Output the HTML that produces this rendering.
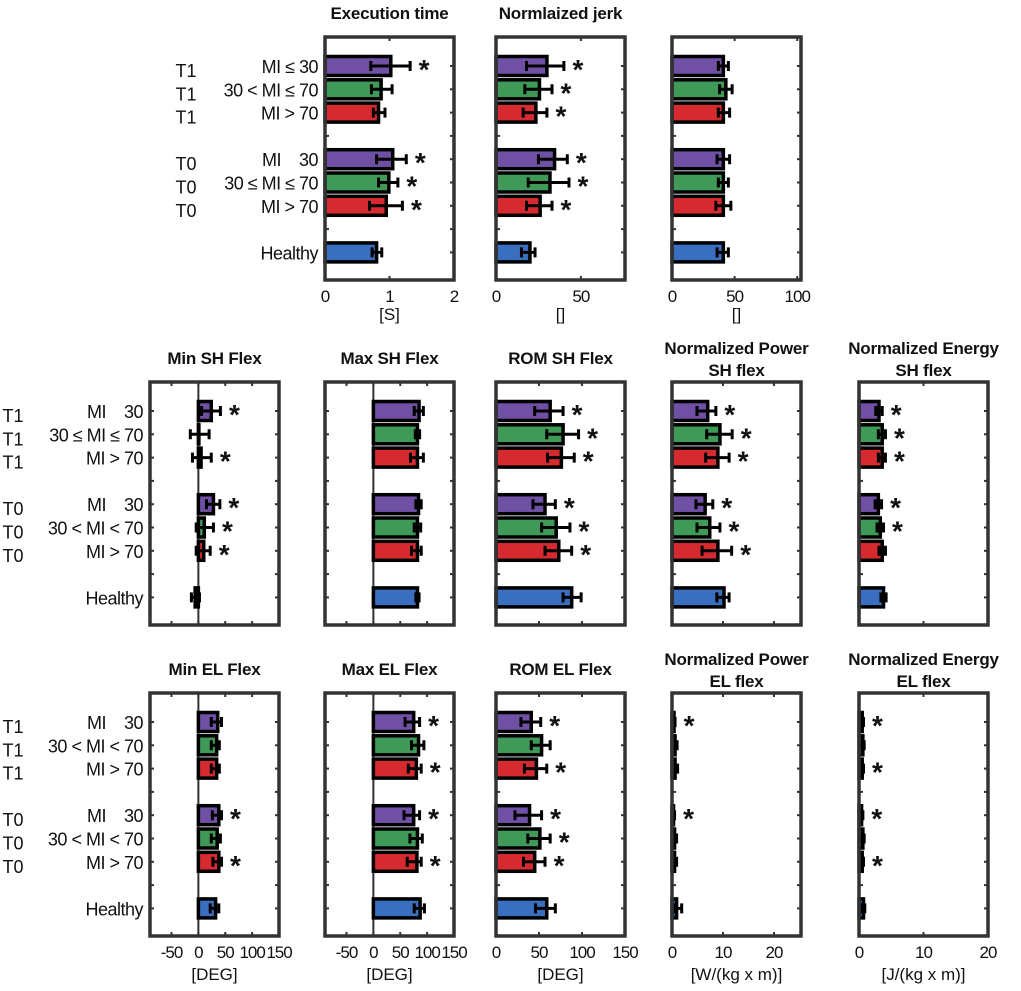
<!DOCTYPE html>
<html><head><meta charset="utf-8"><style>
body{margin:0;background:#fff}
svg text{font-family:"Liberation Sans",sans-serif;fill:#111}
</style></head><body>
<svg id="fig" width="1021" height="986" viewBox="0 0 1021 986" xmlns="http://www.w3.org/2000/svg"></svg>
<script>
// ---- data ----
const categories = ["MI ≤ 30","30 < MI ≤ 70","MI > 70","MI ≤ 30","30 < MI ≤ 70","MI > 70","Healthy"];
const rowPos = [1,2,3,5,6,7,9];
const groupColors = ["#7050a4","#3e9a56","#d52b30","#3a6ebf","#3a6ebf"];
const barColorIdx = [0,1,2,0,1,2,3];

const execMean = [1.02,0.87,0.83,1.05,0.99,0.95,0.80];
const execLo   = [0.71,0.72,0.75,0.80,0.83,0.69,0.73];
const execHi   = [1.32,1.04,0.93,1.26,1.13,1.20,0.88];
const execStar = [1,0,0,1,1,1,0];

const jerkMean = [30,25.6,23.5,34.5,31.8,26,20];
const jerkLo   = [18,17,16,25,19,18,15];
const jerkHi   = [40,33,30,42,43,33,23];
const jerkStar = [1,1,1,1,1,1,0];

const thirdMean = [41,43,41,41,41,41,41];
const thirdLo   = [37,38,37,36,37,35,36];
const thirdHi   = [45,48,46,46,45,47,45];
const thirdStar = [0,0,0,0,0,0,0];

const minShMean = [24,0,5,28,11,10,-6];
const minShLo   = [6,-15,-11,15,-4,-4,-13];
const minShHi   = [41,20,24,40,28,22,2];
const minShStar = [1,0,1,1,1,1,0];

const maxShMean = [85,82,82,84,82,82,82];
const maxShLo   = [76,78,69,79,76,71,79];
const maxShHi   = [93,86,93,89,88,89,85];
const maxShStar = [0,0,0,0,0,0,0];

const romShMean = [63,78,76,57,70,73,88];
const romShLo   = [45,59,60,43,53,57,78];
const romShHi   = [78,96,91,69,86,88,99];
const romShStar = [1,1,1,1,1,1,0];

const powShMean = [7,9.4,9,6.5,7.4,9,10.2];
const powShLo   = [4.9,6.8,6.6,4.7,4.9,5.9,8.8];
const powShHi   = [8.6,11.8,11.2,8,9.4,11.7,11.2];
const powShStar = [1,1,1,1,1,1,0];

const enShMean = [3.1,3.6,3.6,3,3.3,3.6,3.8];
const enShLo   = [2.6,3.0,3.0,2.5,2.8,3.1,3.4];
const enShHi   = [3.6,4.1,4.1,3.5,3.8,4.1,4.2];
const enShStar = [1,1,1,1,1,0,0];

const minElMean = [36,34,34,38,35,38,32];
const minElLo   = [24,24,24,26,24,27,22];
const minElHi   = [43,39,39,43,41,43,38];
const minElStar = [0,0,0,1,0,1,0];

const maxElMean = [75,84,80,75,82,81,87];
const maxElLo   = [59,71,65,57,68,63,76];
const maxElHi   = [86,94,89,86,91,89,95];
const maxElStar = [1,0,1,1,0,1,0];

const romElMean = [41,53,47,39,51,45,59];
const romElLo   = [29,41,33,22,37,32,46];
const romElHi   = [52,63,59,53,63,57,69];
const romElStar = [1,0,1,1,1,1,0];

const powElMean = [0.4,0.6,0.6,0.3,0.5,0.5,0.9];
const powElLo   = [0.2,0.3,0.3,0.1,0.2,0.2,0.5];
const powElHi   = [0.6,1.0,1.1,0.5,0.9,0.9,1.9];
const powElStar = [1,0,0,1,0,0,0];

const enElMean = [0.5,0.6,0.5,0.4,0.6,0.5,0.7];
const enElLo   = [0.3,0.4,0.3,0.2,0.4,0.3,0.5];
const enElHi   = [0.7,0.8,0.7,0.6,0.8,0.7,0.9];
const enElStar = [1,0,1,1,0,1,0];

const ticksExec = [0,1,2];
const ticksJerk = [0,50];
const ticksThird = [0,50,100];
const ticksDeg = [-50,0,50,100,150];
const ticksRom = [0,50,100,150];
const ticksPow = [0,10,20];

// ---- layout ----
const NS="http://www.w3.org/2000/svg";
const svg=document.getElementById('fig');
function mk(tag,attrs,parent){const e=document.createElementNS(NS,tag);for(const k in attrs)e.setAttribute(k,attrs[k]);(parent||svg).appendChild(e);return e;}
const rows={top:{y0:37,y1:280,r1:66},mid:{y0:382,y1:625,r1:411},bot:{y0:693,y1:936,r1:722}};
const cols={A:[150,279],B:[325,454],C:[496,625],D:[672,801],E:[859,988]};
const SP=23.3;

function panel(name,row,col,xmin,xmax,mean,lo,hi,star,ticks,showLabels,title,unit,zeroLine){
  const R=rows[row],[x0,x1]=cols[col];
  const g=mk('g',{});
  
  
  const xs=v=>x0+(v-xmin)/(xmax-xmin)*(x1-x0);
  const ys=p=>R.r1+(p-1)*SP;
  if(title){
    const offs = title.length>1 ? [-28,-6] : [-18];
    title.forEach((t,i)=>{
      const tt=mk('text',{x:(x0+x1)/2,y:R.y0+offs[i],'text-anchor':'middle','font-size':17,'font-weight':'bold','letter-spacing':'-0.2'},g);
      tt.textContent=t;
      
      
    });
  }
  if(zeroLine){const z=mk('line',{x1:xs(0),x2:xs(0),y1:R.y0,y2:R.y1,stroke:'#333','stroke-width':2},g);
    }
  for(let p=1;p<=9;p++){
    mk('line',{x1:x0,x2:x0+4,y1:ys(p),y2:ys(p),stroke:'#333','stroke-width':2},g);
    mk('line',{x1:x1-4,x2:x1,y1:ys(p),y2:ys(p),stroke:'#333','stroke-width':2},g);
  }
  ticks.forEach(t=>{
    const x=xs(t);
    mk('line',{x1:x,x2:x,y1:R.y0,y2:R.y0+4,stroke:'#333','stroke-width':2},g);
    mk('line',{x1:x,x2:x,y1:R.y1-4,y2:R.y1,stroke:'#333','stroke-width':2},g);
    if(showLabels){
      const tl=mk('text',{x:x,y:R.y1+22,'text-anchor':'middle','font-size':17,'letter-spacing':'-1'},g);
      tl.textContent=t;
      
      
    }
  });
  if(unit){const u=mk('text',{x:(x0+x1)/2,y:R.y1+(row==='top'?40:44),'text-anchor':'middle','font-size':17},g);u.textContent=unit;
    }
  mean.forEach((v,i)=>{
    const y=ys(rowPos[i]);const a=xs(0),b=xs(v);
    const r=mk('rect',{x:Math.min(a,b),y:y-9.5,width:Math.max(Math.abs(b-a),0.5),height:19,fill:groupColors[barColorIdx[i]],stroke:'#000','stroke-width':3.5},g);
    
    
    const el=mk('path',{d:`M${xs(lo[i])},${y}H${xs(hi[i])}M${xs(lo[i])},${y-5}V${y+5}M${xs(hi[i])},${y-5}V${y+5}`,stroke:'#000','stroke-width':3,fill:'none'},g);
    
    
    if(star[i]){
      const s=mk('text',{x:xs(hi[i])+14,y:y+13,'text-anchor':'middle','font-size':28,'font-weight':'bold'},g);
      s.textContent='*';
      
      
    }
  });
  const bx=mk('rect',{x:x0,y:R.y0,width:x1-x0,height:R.y1-R.y0,fill:'none',stroke:'#333','stroke-width':3.5},g);
  
  
}

function yLabels(row,tX,labX,labs){
  const R=rows[row];
  labs.forEach((l,i)=>{
    const y=R.r1+(rowPos[i]-1)*SP+7;
    const t=mk('text',{x:labX,y:y,'text-anchor':'end','font-size':18,'letter-spacing':'-0.5',style:'white-space:pre'});
    t.textContent=l;
    
    
    if(i<6){const g=mk('text',{x:tX,y:y+4,'text-anchor':'middle','font-size':18});g.textContent=i<3?'T1':'T0';
      }
  });
}
yLabels('top',186,318,["MI ≤ 30","30 < MI ≤ 70","MI > 70","MI    30","30 ≤ MI ≤ 70","MI > 70","Healthy"]);
yLabels('mid',13,143,["MI    30","30 ≤ MI ≤ 70","MI > 70","MI    30","30 < MI < 70","MI > 70","Healthy"]);
yLabels('bot',13,143,["MI    30","30 < MI < 70","MI > 70","MI    30","30 < MI < 70","MI > 70","Healthy"]);

panel('exec','top','B',0,2,execMean,execLo,execHi,execStar,ticksExec,true,['Execution time'],'[S]',false);
panel('jerk','top','C',0,76,jerkMean,jerkLo,jerkHi,jerkStar,ticksJerk,true,['Normlaized jerk'],'[]',false);
panel('third','top','D',0,103,thirdMean,thirdLo,thirdHi,thirdStar,ticksThird,true,null,'[]',false);

panel('min-sh','mid','A',-90,150,minShMean,minShLo,minShHi,minShStar,ticksDeg,false,['Min SH Flex'],null,true);
panel('max-sh','mid','B',-90,150,maxShMean,maxShLo,maxShHi,maxShStar,ticksDeg,false,['Max SH Flex'],null,true);
panel('rom-sh','mid','C',0,150,romShMean,romShLo,romShHi,romShStar,ticksRom,false,['ROM SH Flex'],null,false);
panel('pow-sh','mid','D',0,25.3,powShMean,powShLo,powShHi,powShStar,ticksPow,false,['Normalized Power','SH flex'],null,false);
panel('en-sh','mid','E',0,20,enShMean,enShLo,enShHi,enShStar,ticksPow,false,['Normalized Energy','SH flex'],null,false);

panel('min-el','bot','A',-90,150,minElMean,minElLo,minElHi,minElStar,ticksDeg,true,['Min EL Flex'],'[DEG]',true);
panel('max-el','bot','B',-90,150,maxElMean,maxElLo,maxElHi,maxElStar,ticksDeg,true,['Max EL Flex'],'[DEG]',true);
panel('rom-el','bot','C',0,150,romElMean,romElLo,romElHi,romElStar,ticksRom,true,['ROM EL Flex'],'[DEG]',false);
panel('pow-el','bot','D',0,25.3,powElMean,powElLo,powElHi,powElStar,ticksPow,true,['Normalized Power','EL flex'],'[W/(kg x m)]',false);
panel('en-el','bot','E',0,20,enElMean,enElLo,enElHi,enElStar,ticksPow,true,['Normalized Energy','EL flex'],'[J/(kg x m)]',false);
</script>
</body></html>
